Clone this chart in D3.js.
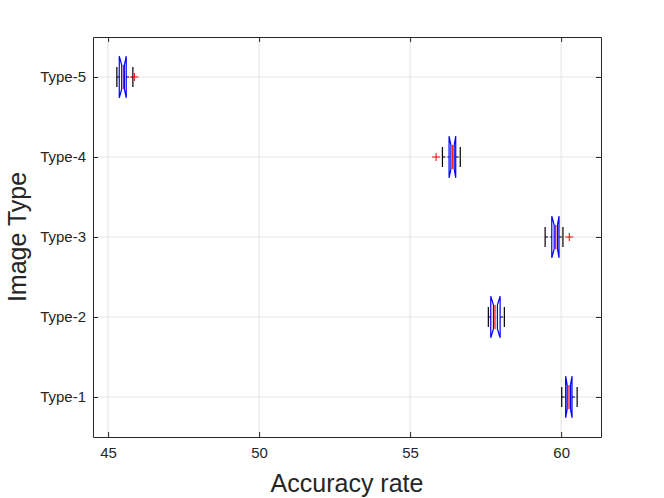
<!DOCTYPE html>
<html>
<head>
<meta charset="utf-8">
<script src="https://cdn.jsdelivr.net/npm/d3@7"></script>
<style>
  body { margin: 0; background: #fff; }
  text { font-family: "Liberation Sans", Arial, Helvetica, sans-serif; fill: #262626; }
</style>
</head>
<body>
<div class="chart"></div>
<script>
// data (accuracy rate per image type)
var categories = ["Type-1", "Type-2", "Type-3", "Type-4", "Type-5"];
var whiskerLo = [60.02, 57.59, 59.47, 56.07, 45.29];
var q1        = [60.15, 57.67, 59.69, 56.29, 45.37];
var notchLo   = [60.20, 57.76, 59.77, 56.35, 45.45];
var medians   = [60.26, 57.81, 59.82, 56.41, 45.51];
var notchHi   = [60.31, 57.89, 59.88, 56.46, 45.54];
var q3        = [60.36, 57.98, 59.93, 56.51, 45.60];
var whiskerHi = [60.53, 58.12, 60.06, 56.66, 45.82];
var outliers  = [[], [], [60.27], [55.86], [45.87]];
var xTicks = [45, 50, 55, 60];

var margin = { top: 37, right: 63, bottom: 61, left: 93 };
var W = 664, H = 498;
var width = W - margin.left - margin.right,
    height = H - margin.top - margin.bottom;

var svg = d3.select(".chart").append("svg")
    .attr("width", W)
    .attr("height", H);

var g = svg.append("g")
    .attr("transform", "translate(" + margin.left + "," + margin.top + ")");

var x = d3.scaleLinear().domain([44.5, 61.32]).range([0, width]);
var y = d3.scaleLinear().domain([0.5, 5.5]).range([height, 0]);

// grid
g.selectAll("line.xgrid").data(xTicks).enter().append("line")
    .attr("class", "xgrid")
    .attr("x1", function(d){ return x(d); })
    .attr("x2", function(d){ return x(d); })
    .attr("y1", 0).attr("y2", height)
    .attr("stroke", "#e3e3e3").attr("stroke-width", 1);

g.selectAll("line.ygrid").data(categories).enter().append("line")
    .attr("class", "ygrid")
    .attr("x1", 0).attr("x2", width)
    .attr("y1", function(d, i){ return y(i + 1); })
    .attr("y2", function(d, i){ return y(i + 1); })
    .attr("stroke", "#e3e3e3").attr("stroke-width", 1);

// axes (MATLAB style: ticks inside, box on)
var tickLen = 5;
var xAxisB = d3.axisBottom(x).tickValues(xTicks).tickSizeInner(-tickLen).tickSizeOuter(0).tickPadding(10);
var xAxisT = d3.axisTop(x).tickValues(xTicks).tickSizeInner(-tickLen).tickSizeOuter(0).tickFormat("");
var yAxisL = d3.axisLeft(y).tickValues([1, 2, 3, 4, 5])
    .tickFormat(function(d){ return categories[d - 1]; })
    .tickSizeInner(-tickLen).tickSizeOuter(0).tickPadding(7);
var yAxisR = d3.axisRight(y).tickValues([1, 2, 3, 4, 5]).tickSizeInner(-tickLen).tickSizeOuter(0).tickFormat("");

function styleAxis(sel){
    sel.select(".domain").attr("stroke", "#262626").attr("stroke-width", 1);
    sel.selectAll(".tick line").attr("stroke", "#262626");
    sel.selectAll(".tick text").attr("fill", "#262626")
        .style("font-size", "15px")
        .style("font-family", "'Liberation Sans', Arial, sans-serif");
}

g.append("g").attr("transform", "translate(0," + height + ")").call(xAxisB).call(styleAxis);
g.append("g").call(xAxisT).call(styleAxis);
g.append("g").call(yAxisL).call(styleAxis);
g.append("g").attr("transform", "translate(" + width + ",0)").call(yAxisR).call(styleAxis);

// boxes
var boxHalf = 0.26, capHalf = 0.125, notchDepth = 0.11;
var rows = categories.map(function(c, i){
    return { pos: i + 1, wlo: whiskerLo[i], nlo: notchLo[i], q1: q1[i], med: medians[i],
             q3: q3[i], nhi: notchHi[i], whi: whiskerHi[i], out: outliers[i] };
});

var box = g.selectAll("g.box").data(rows).enter().append("g").attr("class", "box");

// whiskers (dashed)
box.append("line")
    .attr("x1", function(d){ return x(d.wlo); })
    .attr("x2", function(d){ return x(d.q1); })
    .attr("y1", function(d){ return y(d.pos); })
    .attr("y2", function(d){ return y(d.pos); })
    .attr("stroke", "#000").attr("stroke-dasharray", "3,2");
box.append("line")
    .attr("x1", function(d){ return x(d.q3); })
    .attr("x2", function(d){ return x(d.whi); })
    .attr("y1", function(d){ return y(d.pos); })
    .attr("y2", function(d){ return y(d.pos); })
    .attr("stroke", "#000").attr("stroke-dasharray", "3,2");

// caps
["wlo", "whi"].forEach(function(k){
    box.append("line")
        .attr("x1", function(d){ return x(d[k]); })
        .attr("x2", function(d){ return x(d[k]); })
        .attr("y1", function(d){ return y(d.pos - capHalf); })
        .attr("y2", function(d){ return y(d.pos + capHalf); })
        .attr("stroke", "#000").attr("stroke-width", 1.2);
});

// notched box: outer sides at q1/q3, notch lines folding in to the notch interval
var line = d3.line().x(function(p){ return x(p[0]); }).y(function(p){ return y(p[1]); });
box.append("path")
    .attr("d", function(d){
        var t = d.pos + boxHalf, b = d.pos - boxHalf;
        return line([[d.q1, b], [d.q1, t], [d.nlo, t - notchDepth], [d.nlo, b + notchDepth], [d.q1, b]]) +
               line([[d.q3, b], [d.q3, t], [d.nhi, t - notchDepth], [d.nhi, b + notchDepth], [d.q3, b]]);
    })
    .attr("fill", "none").attr("stroke", "#0000ff").attr("stroke-width", 1.2);

// median
box.append("line")
    .attr("x1", function(d){ return x(d.med); })
    .attr("x2", function(d){ return x(d.med); })
    .attr("y1", function(d){ return y(d.pos - boxHalf + notchDepth); })
    .attr("y2", function(d){ return y(d.pos + boxHalf - notchDepth); })
    .attr("stroke", "#ff0000").attr("stroke-width", 1.2);

// outliers
box.selectAll("path.out")
    .data(function(d){ return d.out.map(function(v){ return { v: v, pos: d.pos }; }); })
    .enter().append("path")
    .attr("class", "out")
    .attr("transform", function(d){ return "translate(" + x(d.v) + "," + y(d.pos) + ")"; })
    .attr("d", "M-4,0H4M0,-4V4")
    .attr("stroke", "#ff0000").attr("stroke-width", 1).attr("fill", "none");

// axis titles
svg.append("text")
    .attr("x", margin.left + width / 2)
    .attr("y", 492)
    .attr("text-anchor", "middle")
    .style("font-size", "25px")
    .text("Accuracy rate");

svg.append("text")
    .attr("transform", "translate(26," + (margin.top + height / 2) + ") rotate(-90)")
    .attr("text-anchor", "middle")
    .style("font-size", "25px")
    .text("Image Type");
</script>
</body>
</html>
